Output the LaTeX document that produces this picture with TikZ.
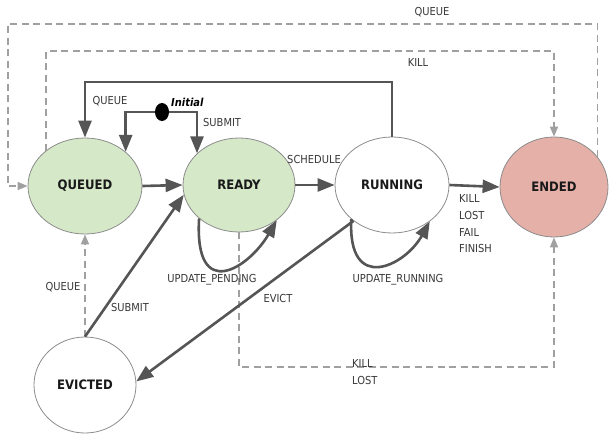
\documentclass[tikz,border=0pt]{standalone}
\usepackage{fontspec}
\setmainfont{DejaVu Sans Condensed}
\usetikzlibrary{arrows.meta,shapes.geometric}
\definecolor{ngreen}{HTML}{D5E8C8}
\definecolor{nred}{HTML}{E5B0A8}
\definecolor{nborder}{HTML}{8C8C8C}
\definecolor{edgec}{HTML}{555555}
\definecolor{dedge}{HTML}{A0A0A0}
\definecolor{lblc}{HTML}{383838}
\begin{document}
\begin{tikzpicture}[x=1pt,y=-1pt,
  state/.style={ellipse, draw=nborder, line width=0.8pt, font=\bfseries\fontsize{13}{15}\selectfont, text=black!90, inner sep=0pt},
  arr/.style={draw=edgec, line width=2.6pt, -{Triangle[length=17pt,width=13pt]}},
  darr/.style={draw=dedge, line width=1.6pt, dash pattern=on 7pt off 4.5pt, -{Triangle[length=10pt,width=8pt]}},
  lab/.style={font=\fontsize{11}{13}\selectfont, text=lblc, inner sep=0pt},
]
\useasboundingbox (0,0) rectangle (609,436);
\fill[white] (0,0) rectangle (609,436);

% states
\node[state, fill=ngreen, minimum width=114pt, minimum height=96pt] (Q) at (85,186) {QUEUED};
\node[state, fill=ngreen, minimum width=112pt, minimum height=94pt] (R) at (239,185) {READY};
\node[state, fill=white, minimum width=114pt, minimum height=96pt] (U) at (392,185) {RUNNING};
\node[state, fill=nred, minimum width=108pt, minimum height=100pt] (E) at (554,187) {ENDED};
\node[state, fill=white, minimum width=102pt, minimum height=96pt] (V) at (85,385) {EVICTED};
\node[ellipse, fill=black, minimum width=14pt, minimum height=18pt, inner sep=0pt] (I) at (162,112) {};

% helper coordinates
\coordinate (qtop) at (300,24);
\coordinate (ql) at (8,186);
\coordinate (ktop) at (300,51);
\coordinate (stop) at (240,82);
\coordinate (kb) at (400,367);

% dashed connectors
\draw[darr] (E.35) |- (qtop) -| (ql) -- (Q.west);
\draw[darr] (Q.138) |- (ktop) -| (E.north);
\draw[darr] (V.north) -- (Q.south);
\draw[darr] (R.south) |- (kb) -| (E.south);

% solid connectors
\draw[arr] (U.north) |- (stop) -| (Q.north);
\draw[arr] (I.west) -| (Q.40);
\draw[arr] (I.east) -| (R.143);
\draw[arr] (Q.east) -- (R.west);
\draw[arr] (R.east) -- (U.west);
\draw[arr] (U.east) -- (E.west);
\draw[arr] (R.220) .. controls +(-5,85) and +(-28,48) .. (R.317);
\draw[arr] (U.220) .. controls +(-4,75) and +(-25,45) .. (U.316);
\draw[arr] (U.223) -- (V.4);
\draw[arr] (V.north) -- (R.190);

% labels
\node[lab] (lq1) at (432,12) {QUEUE};
\node[lab] (lk1) at (418,62) {KILL};
\node[lab] (lq2) at (110,101) {QUEUE};
\node[lab, font=\bfseries\itshape\fontsize{11}{13}\selectfont, text=black, anchor=west] (lin) at (171,102) {Initial};
\node[lab, anchor=west] (ls1) at (203,122) {SUBMIT};
\node[lab] (lsch) at (314,159) {SCHEDULE};
\node[lab, anchor=west] (lx1) at (459,198) {KILL};
\node[lab, anchor=west] (lx2) at (459,215) {LOST};
\node[lab, anchor=west] (lx3) at (459,232) {FAIL};
\node[lab, anchor=west] (lx4) at (459,248) {FINISH};
\node[lab] (lup) at (212,280) {UPDATE\_PENDING};
\node[lab] (lur) at (398,280) {UPDATE\_RUNNING};
\node[lab] (lev) at (278,298) {EVICT};
\node[lab] (lq3) at (63,287) {QUEUE};
\node[lab] (ls2) at (130,307) {SUBMIT};
\node[lab, anchor=west] (lk2) at (352,363) {KILL};
\node[lab, anchor=west] (ll2) at (352,380) {LOST};
\end{tikzpicture}
\end{document}
